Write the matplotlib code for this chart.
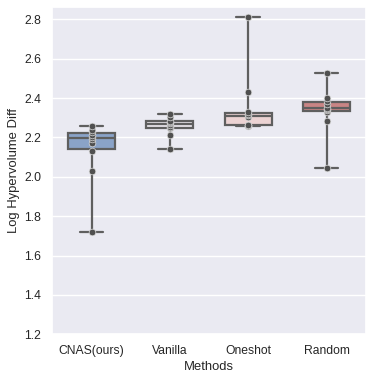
import numpy as np
import pandas as pd
import matplotlib
matplotlib.use("Agg")
import matplotlib.pyplot as plt
import seaborn as sns

methods = ["CNAS(ours)", "Vanilla", "Oneshot", "Random"]
cnas = [1.72, 2.03, 2.132, 2.17, 2.19, 2.204, 2.21, 2.225, 2.238, 2.258]
vanilla = [2.142, 2.211, 2.247, 2.255, 2.265, 2.271, 2.278, 2.283, 2.302, 2.319]
oneshot = [2.257, 2.26, 2.262, 2.264, 2.305, 2.313, 2.32, 2.327, 2.43, 2.81]
random_ = [2.047, 2.285, 2.331, 2.338, 2.345, 2.351, 2.37, 2.385, 2.398, 2.525]
yticks = [1.2, 1.4, 1.6, 1.8, 2.0, 2.2, 2.4, 2.6, 2.8]

df = pd.DataFrame({
    "Methods": np.repeat(methods, [len(cnas), len(vanilla), len(oneshot), len(random_)]),
    "Log Hypervolume Diff": cnas + vanilla + oneshot + random_,
})

sns.set_theme(style="darkgrid")
plt.rcParams["font.family"] = ["Liberation Sans", "DejaVu Sans"]

palette = ["#8aa3c8", "#e9e5eb", "#ecd3d3", "#c98585"]

fig = plt.figure(figsize=(3.74, 3.81), dpi=100)
ax = fig.add_axes([0.140, 0.1226, 0.838, 0.8584])
sns.boxplot(data=df, x="Methods", y="Log Hypervolume Diff", hue="Methods",
            palette=palette, saturation=1, width=0.6, whis=(0, 100),
            linewidth=1.6, linecolor="#5f5f5f", showfliers=False, ax=ax, legend=False)
sns.stripplot(data=df, x="Methods", y="Log Hypervolume Diff", jitter=False,
              color="#505050", size=4.8, linewidth=0.5, edgecolor="#e0e0e0", ax=ax)
ax.set_ylim(1.2, 2.861)
ax.set_xlim(-0.5, 3.5)
ax.set_yticks(yticks)
ax.set_yticklabels([f"{v:.1f}" for v in yticks])
ax.tick_params(labelsize=8.7, pad=2)
ax.set_xlabel("Methods", fontsize=9.4, labelpad=2.5)
ax.set_ylabel("Log Hypervolume Diff", fontsize=9.4, labelpad=3)
ax.xaxis.grid(False)
fig.savefig("out.png", dpi=100)
